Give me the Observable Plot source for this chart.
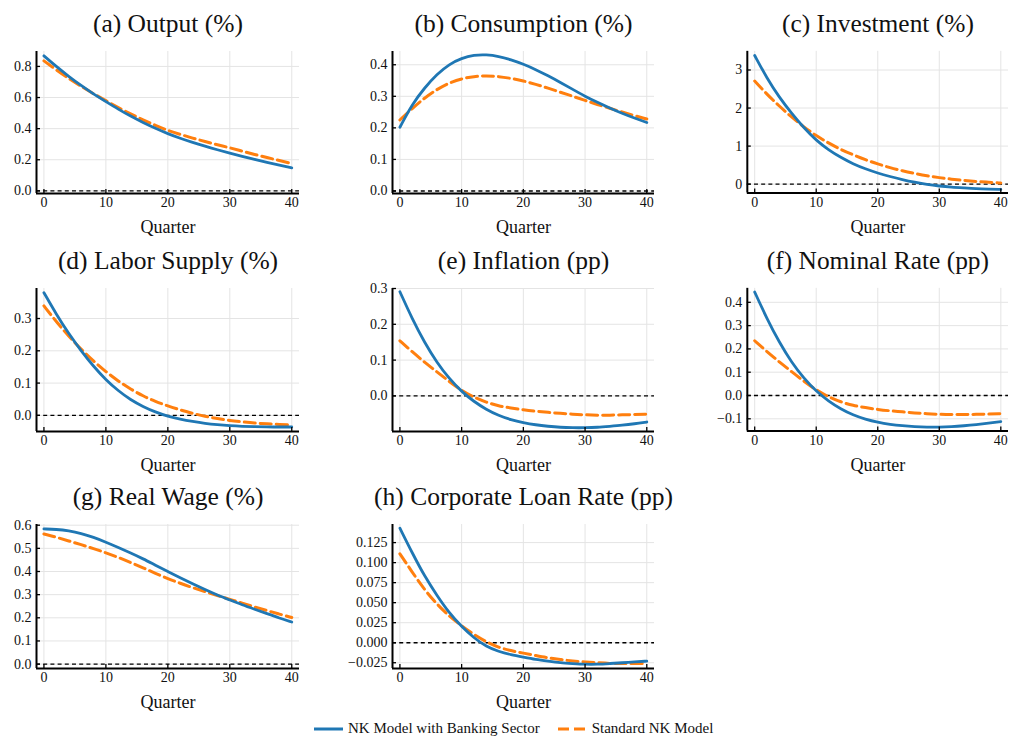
<!DOCTYPE html>
<html>
<head>
<meta charset="utf-8">
<script src="https://cdn.jsdelivr.net/npm/d3@7"></script>
<script src="https://cdn.jsdelivr.net/npm/@observablehq/plot@0.6"></script>
<style>
  html, body { margin: 0; padding: 0; background: #fff; overflow: hidden; }
  #root { position: relative; width: 1010px; height: 737px; font-family: "Liberation Serif", "Times New Roman", Times, "DejaVu Serif", serif; }
  .panel { position: absolute; }
  #legend { position: absolute; left: 314px; top: 720px; display: flex; align-items: center; font-size: 15px; color: #111; white-space: nowrap; }
  #legend .item { display: flex; align-items: center; }
  #legend svg { margin-right: 5px; }
</style>
</head>
<body>
<div id="root"><div id="legend"></div></div>
<script>
// ---------- data ----------
const quarters = [0,2,4,6,8,10,12,14,16,18,20,22,24,26,28,30,32,34,36,38,40];
const xTicks = [0, 10, 20, 30, 40];
const seriesNames = ["NK Model with Banking Sector", "Standard NK Model"];

const titles = [
  "(a) Output (%)", "(b) Consumption (%)", "(c) Investment (%)",
  "(d) Labor Supply (%)", "(e) Inflation (pp)", "(f) Nominal Rate (pp)",
  "(g) Real Wage (%)", "(h) Corporate Loan Rate (pp)"
];
const xLabel = "Quarter";

const outputBank = [.868,.799,.736,.677,.623,.574,.525,.480,.439,.402,.367,.338,.311,.287,.264,.243,.222,.202,.183,.165,.148];
const outputStd  = [.836,.777,.722,.672,.624,.580,.535,.494,.456,.421,.388,.363,.339,.317,.296,.277,.255,.234,.214,.195,.176];

const consBank = [.202,.275,.327,.370,.402,.421,.431,.432,.427,.416,.402,.385,.365,.344,.322,.300,.281,.263,.246,.231,.217];
const consStd  = [.225,.262,.295,.322,.343,.356,.363,.365,.363,.357,.349,.338,.326,.313,.300,.287,.274,.262,.250,.239,.228];

const invBank = [3.38,2.78,2.28,1.86,1.48,1.15,.90,.70,.53,.40,.29,.20,.12,.05,-.01,-.05,-.08,-.10,-.12,-.13,-.14];
const invStd  = [2.71,2.36,2.05,1.76,1.50,1.27,1.08,.91,.77,.64,.53,.43,.35,.28,.22,.17,.13,.10,.07,.05,.03];

const laborBank = [.380,.313,.253,.200,.152,.110,.076,.048,.027,.010,-.003,-.012,-.019,-.025,-.029,-.032,-.034,-.035,-.036,-.036,-.036];
const laborStd  = [.339,.290,.245,.205,.168,.135,.106,.081,.060,.043,.029,.017,.006,-.003,-.010,-.016,-.020,-.024,-.026,-.028,-.030];

const inflBank = [.291,.215,.149,.093,.048,.012,-.016,-.038,-.055,-.067,-.075,-.081,-.085,-.088,-.089,-.089,-.088,-.085,-.082,-.078,-.073];
const inflStd  = [.154,.123,.094,.067,.040,.015,-.004,-.018,-.028,-.034,-.039,-.043,-.046,-.049,-.051,-.053,-.054,-.054,-.053,-.052,-.051];

const rateBank = [.444,.329,.228,.142,.073,.018,-.024,-.058,-.084,-.102,-.115,-.124,-.130,-.134,-.136,-.136,-.134,-.130,-.125,-.119,-.112];
const rateStd  = [.235,.188,.144,.102,.061,.023,-.006,-.028,-.043,-.052,-.060,-.066,-.070,-.075,-.078,-.081,-.082,-.082,-.081,-.080,-.078];

const wageBank = [.584,.582,.576,.565,.548,.527,.504,.480,.455,.427,.400,.373,.347,.322,.298,.277,.256,.237,.218,.199,.182];
const wageStd  = [.562,.548,.532,.516,.499,.481,.461,.439,.416,.392,.369,.349,.330,.313,.296,.280,.263,.247,.231,.216,.201];

const loanBank = [.143,.112,.083,.059,.037,.020,.006,-.005,-.011,-.015,-.018,-.021,-.023,-.025,-.026,-.027,-.027,-.026,-.025,-.024,-.023];
const loanStd  = [.111,.088,.066,.048,.033,.021,.010,.001,-.006,-.010,-.013,-.016,-.019,-.021,-.023,-.024,-.025,-.026,-.026,-.026,-.026];

const bankSeries = [outputBank, consBank, invBank, laborBank, inflBank, rateBank, wageBank, loanBank];
const stdSeries  = [outputStd, consStd, invStd, laborStd, inflStd, rateStd, wageStd, loanStd];

const yTickLists = [
  [0, 0.2, 0.4, 0.6, 0.8],
  [0, 0.1, 0.2, 0.3, 0.4],
  [0, 1, 2, 3],
  [0, 0.1, 0.2, 0.3],
  [0, 0.1, 0.2, 0.3],
  [-0.1, 0, 0.1, 0.2, 0.3, 0.4],
  [0, 0.1, 0.2, 0.3, 0.4, 0.5, 0.6],
  [-0.025, 0, 0.025, 0.05, 0.075, 0.1, 0.125]
];
const yDecimals = [1, 1, 0, 1, 1, 1, 1, 3];
const yDomains = [
  [-0.017, 0.896], [-0.008, 0.442], [-0.23, 3.49], [-0.050, 0.393],
  [-0.0995, 0.30], [-0.152, 0.46], [-0.019, 0.603], [-0.0322, 0.1476]
];
const xDomain = [-1.2, 41.25];

// ---------- layout ----------
const FONT = "'Liberation Serif', 'Times New Roman', Times, 'DejaVu Serif', serif";
const BLUE = "#1f77b4", ORANGE = "#ff7f0e";
const colAxis = [36, 392, 747];
const colW = [263, 262, 262];
const rowTop = [51, 288, 524];
const rowH = [142, 143, 144];
const mL = 60, mR = 2, mT = 50, mB = 50;

const root = document.getElementById("root");

function fmt(dec) {
  return d => (d < 0 ? "\u2212" : "") + Math.abs(d).toFixed(dec);
}

titles.forEach((title, i) => {
  const col = i % 3, row = Math.floor(i / 3);
  const yDom = yDomains[i];
  const yTicks = yTickLists[i];
  const bank = quarters.map((q, k) => ({q, v: bankSeries[i][k]}));
  const std = quarters.map((q, k) => ({q, v: stdSeries[i][k]}));

  const chart = Plot.plot({
    width: mL + colW[col] + mR,
    height: mT + rowH[row] + mB,
    marginLeft: mL, marginRight: mR, marginTop: mT, marginBottom: mB,
    style: {fontFamily: FONT, fontSize: "14px", color: "#111", background: "transparent", overflow: "visible"},
    x: {domain: xDomain, label: null},
    y: {domain: yDom, label: null},
    marks: [
      Plot.gridX(xTicks, {stroke: "#e4e4e4", strokeOpacity: 1, strokeWidth: 1}),
      Plot.gridY(yTicks, {stroke: "#e4e4e4", strokeOpacity: 1, strokeWidth: 1}),
      Plot.ruleY([0], {stroke: "#000", strokeWidth: 1.4, strokeDasharray: "4,3.2"}),
      Plot.line(std, {x: "q", y: "v", stroke: ORANGE, strokeWidth: 3, strokeDasharray: "11,5", curve: "basis"}),
      Plot.line(bank, {x: "q", y: "v", stroke: BLUE, strokeWidth: 2.8, curve: "basis"}),
      // axis lines
      Plot.ruleX([xDomain[0]], {stroke: "#000", strokeWidth: 2}),
      Plot.ruleY([yDom[0]], {stroke: "#000", strokeWidth: 2}),
      // inward ticks
      Plot.ruleX(xTicks, {x: d => d, y1: yDom[0], y2: yDom[0], insetTop: -4, stroke: "#000", strokeWidth: 1.3}),
      Plot.ruleY(yTicks, {y: d => d, x1: xDomain[0], x2: xDomain[0], insetRight: -4, stroke: "#000", strokeWidth: 1.3}),
      Plot.axisX(xTicks, {tickSize: 0, tickPadding: 4, label: null, tickFormat: d => String(d), fontFamily: FONT}),
      Plot.axisY(yTicks, {tickSize: 0, tickPadding: 5, label: null, tickFormat: fmt(yDecimals[i]), fontFamily: FONT}),
      Plot.text([title], {frameAnchor: "top", lineAnchor: "middle", dy: -28, fontSize: 25.5, fontFamily: FONT, text: d => d, fill: "#111"}),
      Plot.text([xLabel], {frameAnchor: "bottom", lineAnchor: "middle", dy: 34, fontSize: 18, fontFamily: FONT, text: d => d, fill: "#111"})
    ]
  });
  const div = document.createElement("div");
  div.className = "panel";
  div.style.left = (colAxis[col] - mL) + "px";
  div.style.top = (rowTop[row] - mT) + "px";
  div.appendChild(chart);
  root.appendChild(div);
});

// ---------- legend ----------
const legend = document.getElementById("legend");
seriesNames.forEach((name, k) => {
  const item = document.createElement("div");
  item.className = "item";
  if (k > 0) item.style.marginLeft = "18px";
  const dash = k === 0 ? "" : ` stroke-dasharray="11,5"`;
  const color = k === 0 ? BLUE : ORANGE;
  item.innerHTML = `<svg width="29" height="8"><line x1="0" y1="4" x2="29" y2="4" stroke="${color}" stroke-width="3"${dash}/></svg><span>${name}</span>`;
  legend.appendChild(item);
});
root.appendChild(legend);
</script>
</body>
</html>
